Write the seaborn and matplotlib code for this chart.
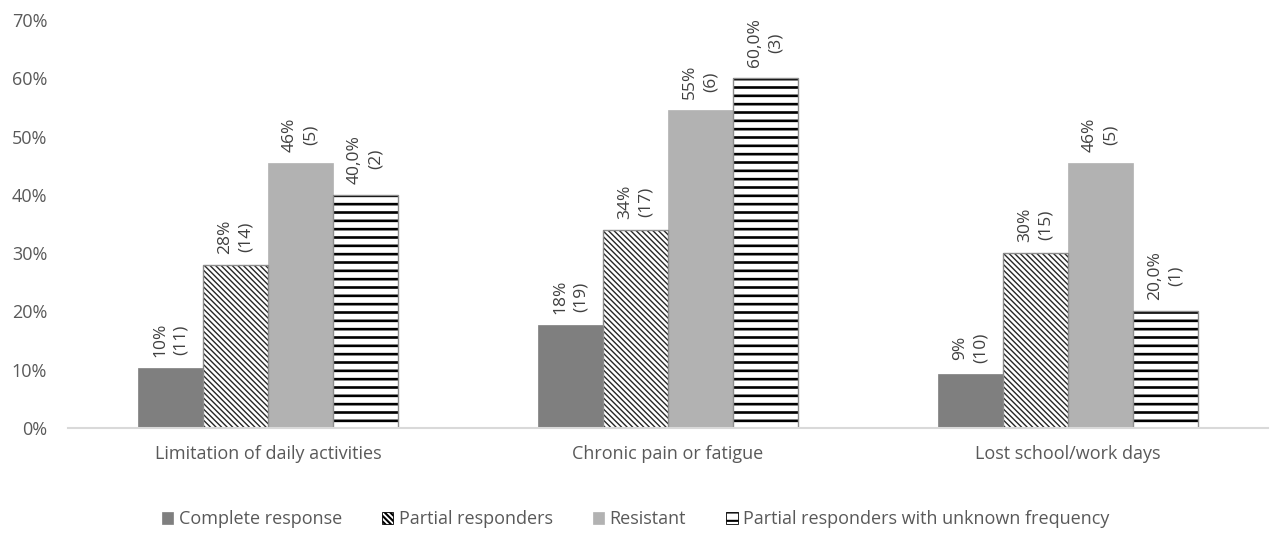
import matplotlib
matplotlib.use("Agg")
import matplotlib.pyplot as plt
import seaborn as sns
import pandas as pd
from matplotlib.patches import Patch, Rectangle

# Outcome categories and response groups
categories = ["Limitation of daily activities", "Chronic pain or fatigue", "Lost school/work days"]
groups = ["Complete response", "Partial responders", "Resistant",
          "Partial responders with unknown frequency"]

# Percentage of patients per category (one list per group) and patient counts
complete_pct = [10.3, 17.6, 9.3]
partial_pct = [28.0, 34.0, 30.0]
resistant_pct = [45.5, 54.5, 45.5]
unknown_pct = [40.0, 60.0, 20.0]

complete_n = [11, 19, 10]
partial_n = [14, 17, 15]
resistant_n = [5, 6, 5]
unknown_n = [2, 3, 1]

pct_by_group = [complete_pct, partial_pct, resistant_pct, unknown_pct]
n_by_group = [complete_n, partial_n, resistant_n, unknown_n]

rows = []
for g, pcts, ns in zip(groups, pct_by_group, n_by_group):
    for c, p, n in zip(categories, pcts, ns):
        rows.append({"category": c, "group": g, "pct": p / 100.0, "n": n})
df = pd.DataFrame(rows)

sns.set_theme(style="white")
plt.rcParams["font.family"] = ["Open Sans", "DejaVu Sans"]
plt.rcParams["hatch.linewidth"] = 1.5

text_color = "#595959"
fills = ["#7f7f7f", "white", "#b2b2b2", "white"]
hatches = [None, "\\\\\\\\\\\\", None, "--"]
hatch_colors = [None, "#262626", None, "black"]
hatch_lw = [None, 1.0, None, 1.9]
outline = "#8c8c8c"


def style_patch(patch, k):
    patch.set_facecolor(fills[k])
    if hatches[k]:
        # hatch strokes take the edge colour; the grey outline is drawn separately
        patch.set_edgecolor(hatch_colors[k])
        patch.set_linewidth(0)
        patch.set_hatch(hatches[k])
        if hasattr(patch, "set_hatch_linewidth"):
            patch.set_hatch_linewidth(hatch_lw[k])
    else:
        patch.set_edgecolor(fills[k])
        patch.set_linewidth(0.5)


fig = plt.figure(figsize=(12.71, 5.35), dpi=100)
ax = fig.add_axes([68 / 1271, 107 / 535, 1200 / 1271, 408 / 535])

sns.barplot(data=df, x="category", y="pct", hue="group", order=categories,
            hue_order=groups, width=0.65, gap=0, ax=ax, legend=False,
            palette=["#7f7f7f"] * 4)

for k, cont in enumerate(ax.containers):
    for bar in cont:
        style_patch(bar, k)
        if hatches[k]:
            ax.add_patch(Rectangle(bar.get_xy(), bar.get_width(), bar.get_height(),
                                   facecolor="none", edgecolor=outline, linewidth=1.0,
                                   zorder=bar.get_zorder() + 0.1))
    labels = []
    for p, n in zip(pct_by_group[k], n_by_group[k]):
        if k == 3:
            s = f"{p:.1f}%".replace(".", ",")
        else:
            s = f"{int(p + 0.5)}%"
        labels.append(f"{s}\n({n})")
    ax.bar_label(cont, labels=labels, rotation=90, padding=8,
                 fontsize=12.5, color="#404040", linespacing=1.4)

ax.set_ylim(0, 0.7)
ax.set_xlim(-0.5, 2.5)
ax.set_yticks([i / 10 for i in range(8)])
ax.set_yticklabels([f"{i * 10}%" for i in range(8)])
ax.set_xlabel("")
ax.set_ylabel("")
ax.tick_params(axis="both", length=0, labelsize=13, labelcolor=text_color)
ax.tick_params(axis="y", pad=15)
ax.tick_params(axis="x", pad=12)
for side in ["top", "right", "left"]:
    ax.spines[side].set_visible(False)
ax.spines["bottom"].set_color("#d9d9d9")
ax.spines["bottom"].set_linewidth(1.5)
ax.grid(False)

handles = []
for k in range(4):
    h = Patch(label=groups[k])
    style_patch(h, k)
    if hatches[k]:
        h.set_edgecolor("black")
        h.set_linewidth(0.6)
    handles.append(h)
fig.legend(handles=handles, loc="center", bbox_to_anchor=(0.5, 0.03), ncol=4,
           frameon=False, fontsize=13, labelcolor=text_color, handlelength=0.65,
           handleheight=0.65, handletextpad=0.3, columnspacing=2.2)

fig.savefig("out.png", dpi=100)
